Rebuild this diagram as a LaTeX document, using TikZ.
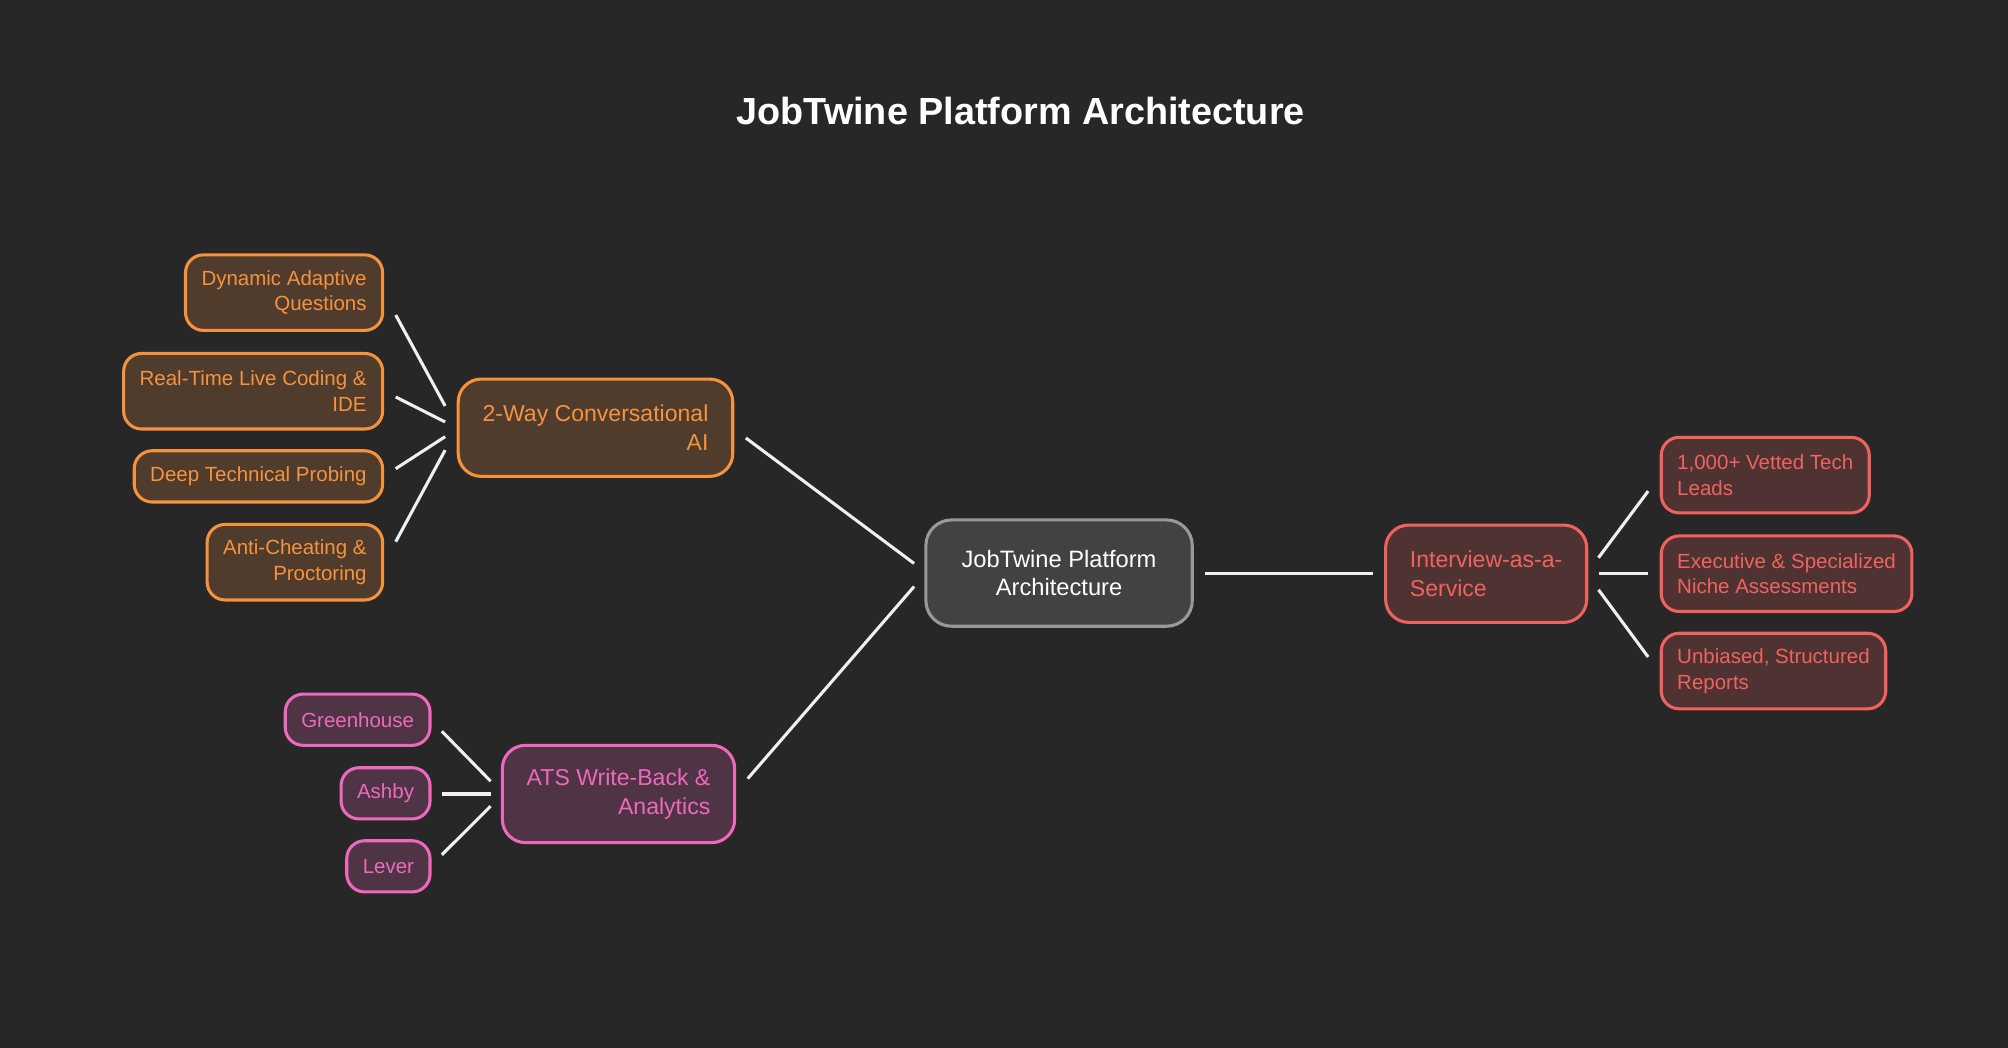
\documentclass[tikz,border=0pt]{standalone}
\usepackage{fontspec}
\setmainfont{Liberation Sans}
\usepackage{xcolor}
\definecolor{fundo}{RGB}{39,39,39}
\definecolor{laranja}{RGB}{245,146,62}
\definecolor{rosa}{RGB}{238,104,190}
\definecolor{coral}{RGB}{240,98,94}
\definecolor{cinza}{RGB}{153,153,153}
\definecolor{miolo}{RGB}{66,66,66}
\usepackage{tikz}
\usetikzlibrary{calc}

\begin{document}
\begin{tikzpicture}[
    x=1pt, y=-1pt,
    root/.style={rounded corners=20pt, draw=cinza, fill=miolo, line width=2.4pt,
                 text=white, align=center, minimum width=208pt, minimum height=83pt,
                 font=\fontsize{18.5}{22}\selectfont},
    branch/.style={rounded corners=18pt, draw=#1, fill=#1!20!fundo, text=#1,
                   line width=2.4pt, inner xsep=19pt, minimum height=76pt,
                   font=\fontsize{18}{23}\selectfont},
    leaf/.style={rounded corners=14pt, draw=#1, fill=#1!20!fundo, text=#1,
                 line width=2.4pt, inner xsep=12.5pt, minimum height=40pt,
                 font=\fontsize{16}{20}\selectfont},
    tall/.style={minimum height=59pt},
    link/.style={white!94!black, line width=2.4pt}
  ]
  \fill[fundo] (0,0) rectangle (1568,818);
  \useasboundingbox (0,0) rectangle (1568,818);

  \node[font=\bfseries\fontsize{29.5}{34}\selectfont, text=white] (title) at (797,87)
    {JobTwine Platform Architecture};

  % Center
  \node[root] (core) at (827,447.5) {JobTwine Platform\\Architecture};

  % Conversational AI (left, top)
  \node[branch=laranja, align=right] (way) at (465,334) {2-Way Conversational\\AI};
  \node[leaf=laranja, tall, align=right, anchor=east] (dyn) at (300,228.5) {Dynamic Adaptive\\Questions};
  \node[leaf=laranja, tall, align=right, anchor=east] (rtc) at (300,305.5) {Real-Time Live Coding \&\\IDE};
  \node[leaf=laranja, anchor=east] (dtp) at (300,372) {Deep Technical Probing};
  \node[leaf=laranja, tall, align=right, anchor=east] (acp) at (300,439) {Anti-Cheating \&\\Proctoring};
  \draw[link] ($(dyn.east)+(9,17.5)$) -- ($(way.west)+(-9,-17)$);
  \draw[link] ($(rtc.east)+(9,4.5)$) -- ($(way.west)+(-9,-4.5)$);
  \draw[link] ($(dtp.east)+(9,-6)$) -- ($(way.west)+(-9,7)$);
  \draw[link] ($(acp.east)+(9,-16)$) -- ($(way.west)+(-9,17.5)$);

  % ATS (left, bottom)
  \node[branch=rosa, align=right] (ats) at (483,620) {ATS Write-Back \&\\Analytics};
  \node[leaf=rosa, anchor=east] (grh) at (337,562) {Greenhouse};
  \node[leaf=rosa, anchor=east] (ash) at (337,619.5) {Ashby};
  \node[leaf=rosa, anchor=east] (lev) at (337,676.5) {Lever};
  \draw[link] ($(grh.east)+(8,9)$) -- ($(ats.west)+(-8,-10)$);
  \draw[link] ($(ash.east)+(8,0.5)$) -- ($(ats.west)+(-8,0)$);
  \draw[link] ($(lev.east)+(8,-9)$) -- ($(ats.west)+(-8,9.5)$);

  % Interview service (right)
  \node[branch=coral, align=left] (iaas) at (1160.5,448) {Interview-as-a-\\Service};
  \node[leaf=coral, tall, align=left, anchor=west] (vtl) at (1296,371) {1,000+ Vetted Tech\\Leads};
  \node[leaf=coral, tall, align=left, anchor=west] (exe) at (1296,448) {Executive \& Specialized\\Niche Assessments};
  \node[leaf=coral, tall, align=left, anchor=west] (rep) at (1296,524) {Unbiased, Structured\\Reports};
  \draw[link] ($(iaas.east)+(8,-12.5)$) -- ($(vtl.west)+(-9,12.5)$);
  \draw[link] ($(iaas.east)+(8,0)$) -- ($(exe.west)+(-9,0)$);
  \draw[link] ($(iaas.east)+(8,12.5)$) -- ($(rep.west)+(-9,-11)$);

  % Main links
  \draw[link] ($(way.east)+(9,8)$) -- ($(core.west)+(-8,-7.5)$);
  \draw[link] ($(ats.east)+(9,-12)$) -- ($(core.west)+(-8,10.5)$);
  \draw[link] ($(core.east)+(9,0.5)$) -- ($(iaas.west)+(-9,0)$);
\end{tikzpicture}
\end{document}
